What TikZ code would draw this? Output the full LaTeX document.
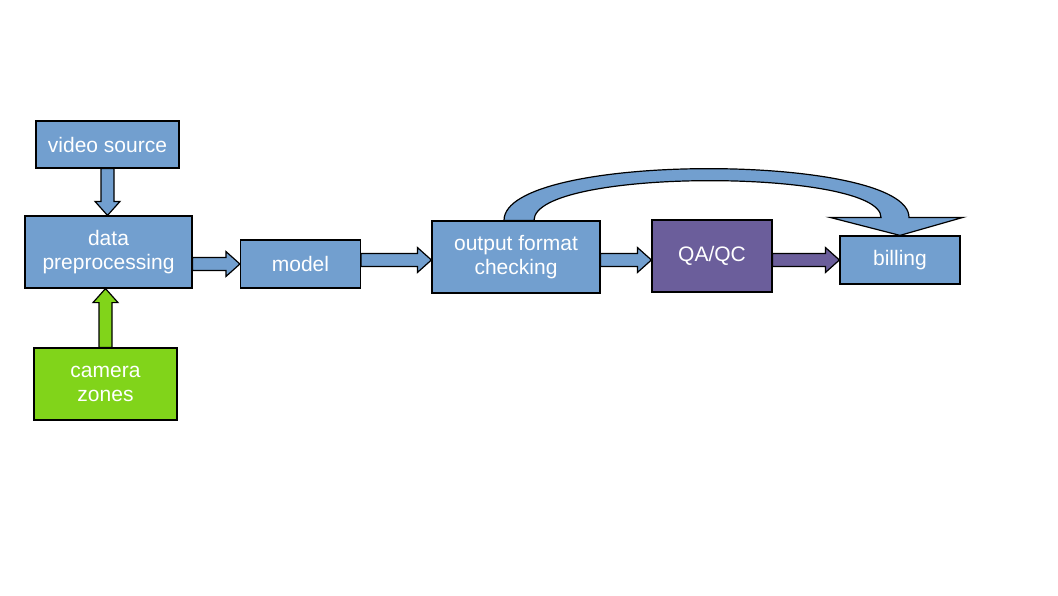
\documentclass[tikz,border=0pt]{standalone}
\usepackage{fontspec}
\setmainfont{Liberation Sans}
\usetikzlibrary{calc}
\definecolor{boxblue}{HTML}{729FCF}
\definecolor{boxgreen}{HTML}{81D41A}
\definecolor{boxpurple}{HTML}{6B5E9B}
\newcommand\fatarrow[3][boxblue]{%
  \path (#2) coordinate (fa-s) (#3) coordinate (fa-e);
  \path ($(fa-e)!14pt!(fa-s)$) coordinate (fa-h);
  \draw[fill=#1, line width=1.2pt] ($(fa-s)!6.5pt!90:(fa-e)$) -- ($(fa-h)!6.5pt!-90:(fa-s)$)
    -- ($(fa-h)!12.5pt!-90:(fa-s)$) -- (fa-e) -- ($(fa-h)!12.5pt!90:(fa-s)$)
    -- ($(fa-h)!6.5pt!90:(fa-s)$) -- ($(fa-s)!6.5pt!-90:(fa-e)$) -- cycle;}
\begin{document}
\begin{tikzpicture}[x=1pt, y=-1pt,
    box/.style={draw, line width=1.2pt, fill=boxblue, text=white, align=center,
      inner sep=0pt, font=\fontsize{21}{24}\selectfont}]
    \useasboundingbox (0,0) rectangle (1058,595);
    \node[box, minimum width=143pt, minimum height=47pt] (video) at (107.5,144.5) {video source};
    \node[box, minimum width=167pt, minimum height=72pt] (data) at (108.5,252) {data\\preprocessing};
    \node[box, fill=boxgreen, minimum width=143pt, minimum height=72pt] (camera) at (105.5,384) {camera\\zones};
    \node[box, minimum width=120pt, minimum height=48pt] (model) at (300.5,264) {model};
    \node[box, minimum width=168pt, minimum height=72pt] (output) at (516,257) {output format\\checking};
    \node[box, fill=boxpurple, minimum width=120pt, minimum height=72pt] (qa) at (712,256) {QA/QC};
    \node[box, minimum width=120pt, minimum height=48pt] (billing) at (900,260) {billing};
    \fatarrow{video.south}{video.south |- data.north}
    \fatarrow[boxgreen]{camera.north}{camera.north |- data.south}
    \fatarrow{data.east |- model}{model.west}
    \fatarrow{model.east |- billing}{output.west |- billing}
    \fatarrow{output.east |- billing}{qa.west |- billing}
    \fatarrow[boxpurple]{qa.east |- billing}{billing.west}
    \draw[fill=boxblue, line width=1.2pt] ($(output.north)+(-12,0)$) .. controls +(0,-69) and +(0,-65) .. ($(billing.north)+(9,-18)$)
      -- ($(billing.north)+(63,-18)$) -- (billing.north) -- ($(billing.north)+(-70,-18)$) -- ($(billing.north)+(-19,-18)$)
      .. controls +(0,-49) and +(0,-53) .. ($(output.north)+(18,0)$) -- cycle;
\end{tikzpicture}
\end{document}
